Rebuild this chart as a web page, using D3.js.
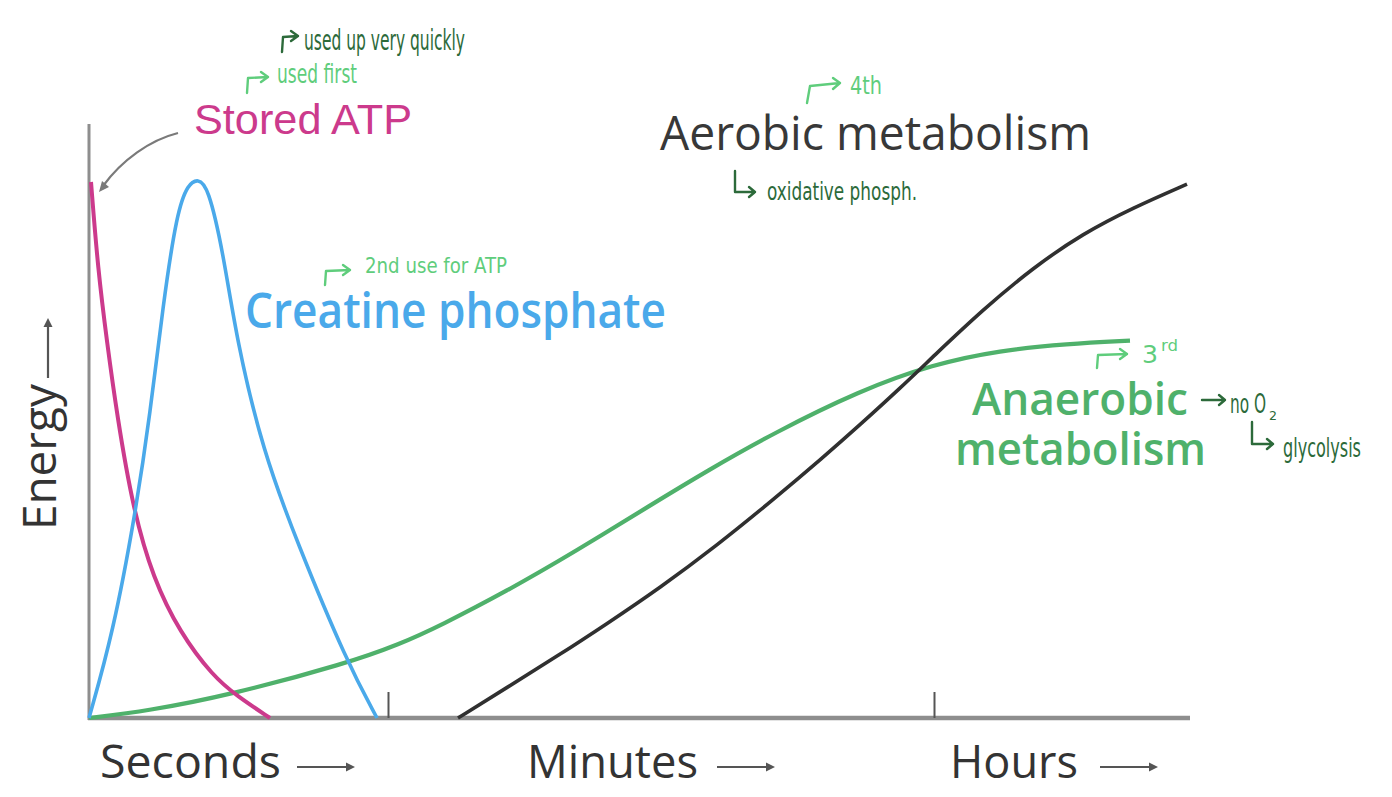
<!DOCTYPE html>
<html>
<head>
<meta charset="utf-8">
<script src="https://cdn.jsdelivr.net/npm/d3@7"></script>
<style>
  html, body { margin: 0; padding: 0; background: #fff; }
  svg { display: block; }
</style>
</head>
<body>
<svg id="chart" width="1392" height="797"></svg>
<script>
// ---------- data (time units, energy 0-100) ----------
const storedATP = [
  [0.2, 100], [0.9, 83.6], [1.8, 70.1], [2.8, 56.5], [4.4, 39.0], [6.4, 26.1],
  [9.1, 15.9], [12.4, 7.8], [14.8, 4.1], [18.1, 0]
];
const creatinePhosphate = [
  [0, 0], [2.4, 15.9], [4.6, 37.7], [6.1, 56.5], [7.4, 77.1], [8.8, 94.5],
  [9.9, 99.6], [10.9, 100.6], [11.9, 99.2], [13.4, 87.1], [14.8, 70.1],
  [17.4, 49.8], [20.8, 32.8], [25.8, 10.4], [28.8, 0]
];
const anaerobic = [
  [0, 0], [5.8, 1.3], [14.1, 4.3], [25.8, 10.2], [31.1, 13.8], [35.1, 17.2],
  [41.8, 23.7], [48.4, 30.8], [56.4, 40.0], [61.8, 46.1], [68.4, 53.1],
  [77.1, 61.1], [84.4, 66.0], [91.1, 68.6], [97.8, 69.8], [104.1, 70.4]
];
const aerobic = [
  [36.9, 0], [41.8, 5.7], [46.8, 11.5], [51.8, 17.6], [57.1, 24.3], [62.8, 32.2],
  [68.4, 40.7], [73.4, 48.6], [77.1, 54.7], [81.1, 61.5], [84.4, 67.4],
  [89.4, 76.2], [94.4, 84.0], [99.4, 90.4], [104.4, 95.2], [109.8, 99.6]
];
const tickPositions = [29.9, 84.5];
const xLabels = ["Seconds", "Minutes", "Hours"];
const yLabel = "Energy";
const seriesNames = ["Stored ATP", "Creatine phosphate", "Aerobic metabolism", "Anaerobic", "metabolism"];
const notesLight = ["used first", "2nd use for ATP", "4th", "3", "rd"];
const notesDark = ["used up very quickly", "oxidative phosph.", "no O", "2", "glycolysis"];

// ---------- layout ----------
const svg = d3.select("#chart");
const x = d3.scaleLinear().domain([0, 110]).range([89, 1189]);
const y = d3.scaleLinear().domain([0, 100]).range([718, 182]);

const C = {
  pink: "#cc3a8c", blue: "#4aa9ea", green: "#4fb16b", black: "#303030",
  axis: "#8e8e8e", text: "#333", light: "#5fcd7c", dark: "#2c6a3a"
};

// axes
svg.append("line").attr("x1", x(0)).attr("x2", x(0)).attr("y1", 124).attr("y2", y(0) + 2)
  .attr("stroke", C.axis).attr("stroke-width", 3);
const xAxis = d3.axisBottom(x).tickValues(tickPositions).tickSize(-26).tickFormat("");
const gx = svg.append("g").attr("transform", `translate(0,${y(0)})`).call(xAxis);
gx.select(".domain").attr("d", `M${x(0) - 1},0H${x(110) + 1}`).attr("stroke", C.axis).attr("stroke-width", 4.5);
gx.selectAll(".tick line").attr("stroke", "#555").attr("stroke-width", 2);

// lines
const line = d3.line().x(d => x(d[0])).y(d => y(d[1])).curve(d3.curveBasis);
const series = [
  { data: anaerobic, color: C.green, w: 4.2 },
  { data: aerobic, color: C.black, w: 3.6 },
  { data: storedATP, color: C.pink, w: 4 },
  { data: creatinePhosphate, color: C.blue, w: 3.6 }
];
series.forEach(s => {
  svg.append("path").attr("d", line(s.data)).attr("fill", "none")
    .attr("stroke", s.color).attr("stroke-width", s.w).attr("stroke-linecap", "butt");
});

// ---------- printed labels ----------
function txt(t, px, py, opts) {
  const el = svg.append("text").attr("x", px).attr("y", py).text(t)
    .attr("font-family", opts.family || "'Liberation Sans', Arial, sans-serif")
    .attr("font-size", opts.size).attr("fill", opts.color)
    .attr("font-weight", opts.weight || 400);
  if (opts.len) el.attr("textLength", opts.len).attr("lengthAdjust", "spacingAndGlyphs");
  if (opts.transform) el.attr("transform", opts.transform);
  return el;
}
const sansUI = "'Open Sans', 'Noto Sans', sans-serif";
txt(seriesNames[0], 194, 134, { size: 42, color: C.pink, len: 218 });
txt(seriesNames[1], 245, 328, { size: 48, color: C.blue, family: sansUI, weight: 600, len: 421 });
txt(seriesNames[2], 660, 150, { size: 48, color: "#383838", family: sansUI, weight: 500, len: 431 });
txt(seriesNames[3], 972, 415, { size: 46, color: C.green, family: sansUI, weight: 600, len: 216 });
txt(seriesNames[4], 955, 465, { size: 46, color: C.green, family: sansUI, weight: 600, len: 251 });

// x labels + arrows
const xLab = [{ x: 100, w: 181, ax: 297 }, { x: 527, w: 171, ax: 717 }, { x: 950, w: 128, ax: 1100 }];
xLabels.forEach((t, i) => {
  const p = xLab[i];
  txt(t, p.x, 778, { size: 46, color: C.text, family: sansUI, len: p.w });
  svg.append("line").attr("x1", p.ax).attr("x2", p.ax + 54).attr("y1", 767).attr("y2", 767)
    .attr("stroke", "#555").attr("stroke-width", 2.2);
  svg.append("path").attr("d", `M${p.ax + 58},767 l-9,-4.5 l0,9 z`).attr("fill", "#555");
});

// y label + arrow
txt(yLabel, 0, 0, { size: 46, color: C.text, family: sansUI, len: 146,
  transform: "translate(56,530) rotate(-90)" });
svg.append("line").attr("x1", 48).attr("x2", 48).attr("y1", 378).attr("y2", 326)
  .attr("stroke", "#555").attr("stroke-width", 2.2);
svg.append("path").attr("d", "M48,318 l-4.5,9 l9,0 z").attr("fill", "#555");

// pointer from "Stored ATP" to top of curve
svg.append("path").attr("d", "M178,133 C150,140 122,160 103,186").attr("fill", "none")
  .attr("stroke", "#7a7a7a").attr("stroke-width", 2.2);
svg.append("path").attr("d", "M99,192 l3,-11 l7,6 z").attr("fill", "#7a7a7a");

// ---------- handwritten notes ----------
const hand = "'Liberation Sans Narrow', 'DejaVu Sans Condensed', 'Liberation Sans', sans-serif";
function note(t, px, py, color, size, len) {
  return txt(t, px, py, { size: size, color: color, family: hand, len: len });
}
function hookUp(x0, yb, yt, x1, color) { // ┌→
  svg.append("path").attr("d", `M${x0},${yb} L${x0 + 1},${yt} L${x1},${yt - 1} M${x1 - 7},${yt - 6} L${x1},${yt - 1} L${x1 - 7},${yt + 4}`)
    .attr("fill", "none").attr("stroke", color).attr("stroke-width", 2.4)
    .attr("stroke-linecap", "round").attr("stroke-linejoin", "round");
}
function hookDown(x0, yt, yb, x1, color) { // └→
  svg.append("path").attr("d", `M${x0},${yt} L${x0},${yb} L${x1},${yb} M${x1 - 6},${yb - 5} L${x1},${yb} L${x1 - 6},${yb + 5}`)
    .attr("fill", "none").attr("stroke", color).attr("stroke-width", 2.4)
    .attr("stroke-linecap", "round").attr("stroke-linejoin", "round");
}

hookUp(282, 52, 37, 298, C.dark);
note(notesDark[0], 304, 50, C.dark, 28, 161);
hookUp(247, 93, 78, 268, C.light);
note(notesLight[0], 277, 83, C.light, 27, 80);
// 4th
svg.append("path").attr("d", "M807,103 L810,86 L840,83 M833,78 L840,83 L833,89")
  .attr("fill", "none").attr("stroke", C.light).attr("stroke-width", 2.4)
  .attr("stroke-linecap", "round").attr("stroke-linejoin", "round");
note(notesLight[2], 850, 94, C.light, 25, 32);
hookDown(735, 171, 192, 755, C.dark);
note(notesDark[1], 767, 200, C.dark, 25, 150);
hookUp(325, 285, 271, 350, C.light);
note(notesLight[1], 365, 273, C.light, 22, 142);
hookUp(1097, 368, 355, 1127, C.light);
note(notesLight[3], 1142, 363, C.light, 24, 16);
note(notesLight[4], 1161, 351, C.light, 16, 17);
svg.append("path").attr("d", "M1202,400 L1225,400 M1219,395 L1225,400 L1219,405")
  .attr("fill", "none").attr("stroke", C.dark).attr("stroke-width", 2.4)
  .attr("stroke-linecap", "round").attr("stroke-linejoin", "round");
note(notesDark[2], 1230, 413, C.dark, 27, 36);
note(notesDark[3], 1269, 420, C.dark, 13, 8);
hookDown(1252, 422, 444, 1273, C.dark);
note(notesDark[4], 1283, 457, C.dark, 27, 78);
</script>
</body>
</html>
